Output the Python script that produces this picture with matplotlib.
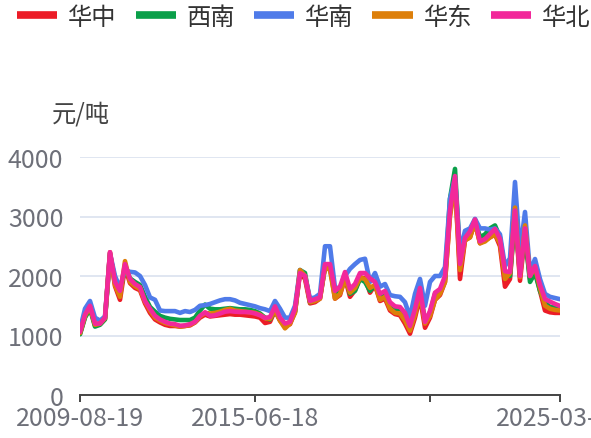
import matplotlib
matplotlib.use("Agg")
import matplotlib.pyplot as plt

plt.rcParams['font.family'] = ['Noto Sans CJK SC', 'DejaVu Sans']

# series values, one point per category step
huazhong = [1030, 1320, 1470, 1170, 1190, 1280, 2400, 1830, 1600, 2150,
            1880, 1800, 1760, 1540, 1380, 1270, 1220, 1180, 1160, 1160,
            1150, 1160, 1170, 1220, 1300, 1350, 1320, 1330, 1340, 1350,
            1360, 1350, 1350, 1340, 1330, 1320, 1300, 1210, 1230, 1420,
            1250, 1150, 1190, 1400, 2050, 1950, 1540, 1560, 1620, 2150,
            2150, 1620, 1680, 1970, 1650, 1760, 1980, 1960, 1720, 1850,
            1580, 1620, 1420, 1360, 1340, 1200, 1030, 1300, 1650, 1130,
            1300, 1600, 1680, 1900, 3050, 3600, 1950, 2600, 2650, 2900,
            2550, 2600, 2650, 2700, 2500, 1820, 1950, 3050, 1920, 2700,
            1950, 2100, 1750, 1420, 1390, 1380, 1380]
xinan = [1020, 1300, 1450, 1150, 1180, 1270, 2350, 1950, 1720, 2150,
         1960, 1900, 1850, 1650, 1480, 1400, 1330, 1300, 1280, 1270,
         1260, 1260, 1260, 1300, 1420, 1520, 1450, 1440, 1440, 1450,
         1460, 1450, 1440, 1440, 1430, 1410, 1370, 1300, 1270, 1420,
         1270, 1180, 1230, 1400, 2100, 2050, 1560, 1590, 1650, 2150,
         2150, 1700, 1750, 2000, 1700, 1750, 1950, 1900, 1750, 1850,
         1650, 1700, 1500, 1450, 1450, 1350, 1150, 1400, 1750, 1250,
         1380, 1700, 1750, 1950, 3300, 3800, 2300, 2650, 2700, 2950,
         2650, 2700, 2800, 2850, 2650, 2050, 2000, 3000, 2050, 2700,
         1900, 2050, 1750, 1550, 1480, 1470, 1460]
huanan = [1100, 1450, 1580, 1300, 1250, 1320, 2380, 2000, 1800, 2100,
          2070, 2060, 2000, 1850, 1640, 1600, 1420, 1410, 1410, 1410,
          1380, 1410, 1395, 1430, 1500, 1510, 1530, 1560, 1590, 1610,
          1610, 1590, 1550, 1530, 1510, 1490, 1460, 1440, 1410, 1580,
          1450, 1300, 1300, 1500, 2100, 2000, 1620, 1640, 1700, 2500,
          2500, 1800, 1800, 2000, 2120, 2200, 2270, 2290, 1900, 2050,
          1820, 1865, 1680, 1660, 1650, 1560, 1311, 1700, 1950, 1500,
          1900, 2000, 2000, 2150, 3300, 3650, 2400, 2760, 2800, 2960,
          2800, 2800, 2780, 2800, 2700, 2168, 2300, 3580, 2400, 3076,
          2067, 2286, 1950, 1700, 1650, 1630, 1610]
huadong = [1040, 1330, 1480, 1180, 1200, 1290, 2380, 1850, 1650, 2250,
           1900, 1830, 1780, 1570, 1420, 1300, 1250, 1210, 1190, 1170,
           1150, 1160, 1180, 1220, 1320, 1380, 1370, 1380, 1400, 1430,
           1450, 1420, 1410, 1400, 1390, 1380, 1350, 1290, 1280, 1420,
           1250, 1120, 1200, 1380, 2100, 2000, 1560, 1580, 1620, 2150,
           2100, 1620, 1700, 1950, 1720, 1800, 1970, 1950, 1800, 1850,
           1600, 1650, 1450, 1380, 1370, 1250, 1080, 1350, 1700, 1200,
           1330, 1600, 1700, 1900, 3000, 3550, 2100, 2600, 2650, 2900,
           2550, 2580, 2650, 2700, 2550, 1950, 2050, 3150, 1980, 2850,
           2000, 2150, 1800, 1500, 1450, 1430, 1420]
huabei = [1060, 1350, 1500, 1200, 1200, 1300, 2400, 1900, 1750, 2200,
          1950, 1865, 1815, 1580, 1450, 1330, 1270, 1230, 1200, 1190,
          1165, 1170, 1190, 1230, 1330, 1390, 1330, 1340, 1370, 1400,
          1410, 1400, 1395, 1395, 1390, 1370, 1340, 1295, 1310, 1490,
          1300, 1200, 1230, 1450, 2050, 2000, 1580, 1610, 1640, 2200,
          2200, 1750, 1820, 2067, 1782, 1865, 2050, 2050, 1960, 1900,
          1700, 1748, 1560, 1490, 1479, 1380, 1160, 1445, 1800, 1227,
          1412, 1720, 1782, 2000, 3100, 3680, 2202, 2640, 2750, 2950,
          2580, 2622, 2706, 2790, 2622, 2080, 2067, 3100, 2000, 2800,
          2000, 2168, 1850, 1613, 1570, 1530, 1496]

names = ['华中', '西南', '华南', '华东', '华北']
colors = ['#ec1c27', '#0a9f49', '#4f7be9', '#dd7f0a', '#f2289a']
tick_pos = [0, 35, 70, 96]
tick_labels = ['2009-08-19', '2015-06-18', '', '2025-03-14']

fig = plt.figure(figsize=(5.91, 4.39), dpi=100)
ax = fig.add_axes([80 / 591, 43 / 439, 480 / 591, 238 / 439])

series = [huazhong, xinan, huanan, huadong, huabei]
for vals, name, c in zip(series, names, colors):
    ax.plot(range(len(vals)), vals, color=c, lw=3.3, label=name,
            solid_joinstyle='round', solid_capstyle='round')

ax.set_xlim(0, len(huabei) - 1)
ax.set_ylim(0, 4000)
ax.set_yticks([0, 1000, 2000, 3000, 4000])
ax.set_xticks(tick_pos)
ax.set_xticklabels(tick_labels)
ax.grid(axis='y', color='#e0e6f1', lw=1.4)
ax.set_axisbelow(True)
for s in ['top', 'right', 'left']:
    ax.spines[s].set_visible(False)
ax.spines['bottom'].set_color('#444444')
ax.spines['bottom'].set_linewidth(1.4)
ax.tick_params(axis='y', length=0, pad=12, labelsize=18, labelcolor='#6e7079')
ax.tick_params(axis='x', length=5, width=1.4, color='#444444', pad=2,
               labelsize=18, labelcolor='#6e7079')

fig.text(81 / 591, 1 - 115 / 439, '元/吨', ha='center', va='center',
         fontsize=17.5, color='#444444')

leg = fig.legend(loc='center left', bbox_to_anchor=(17 / 591, 1 - 18 / 439),
                 ncol=5, frameon=False, fontsize=17.5, borderpad=0,
                 borderaxespad=0, handlelength=1.65, handletextpad=0.45,
                 columnspacing=0.78, labelcolor='#333333')
for ln in leg.get_lines():
    ln.set_linewidth(5.5)
    ln.set_solid_capstyle('butt')

fig.savefig('out.png', dpi=100)
